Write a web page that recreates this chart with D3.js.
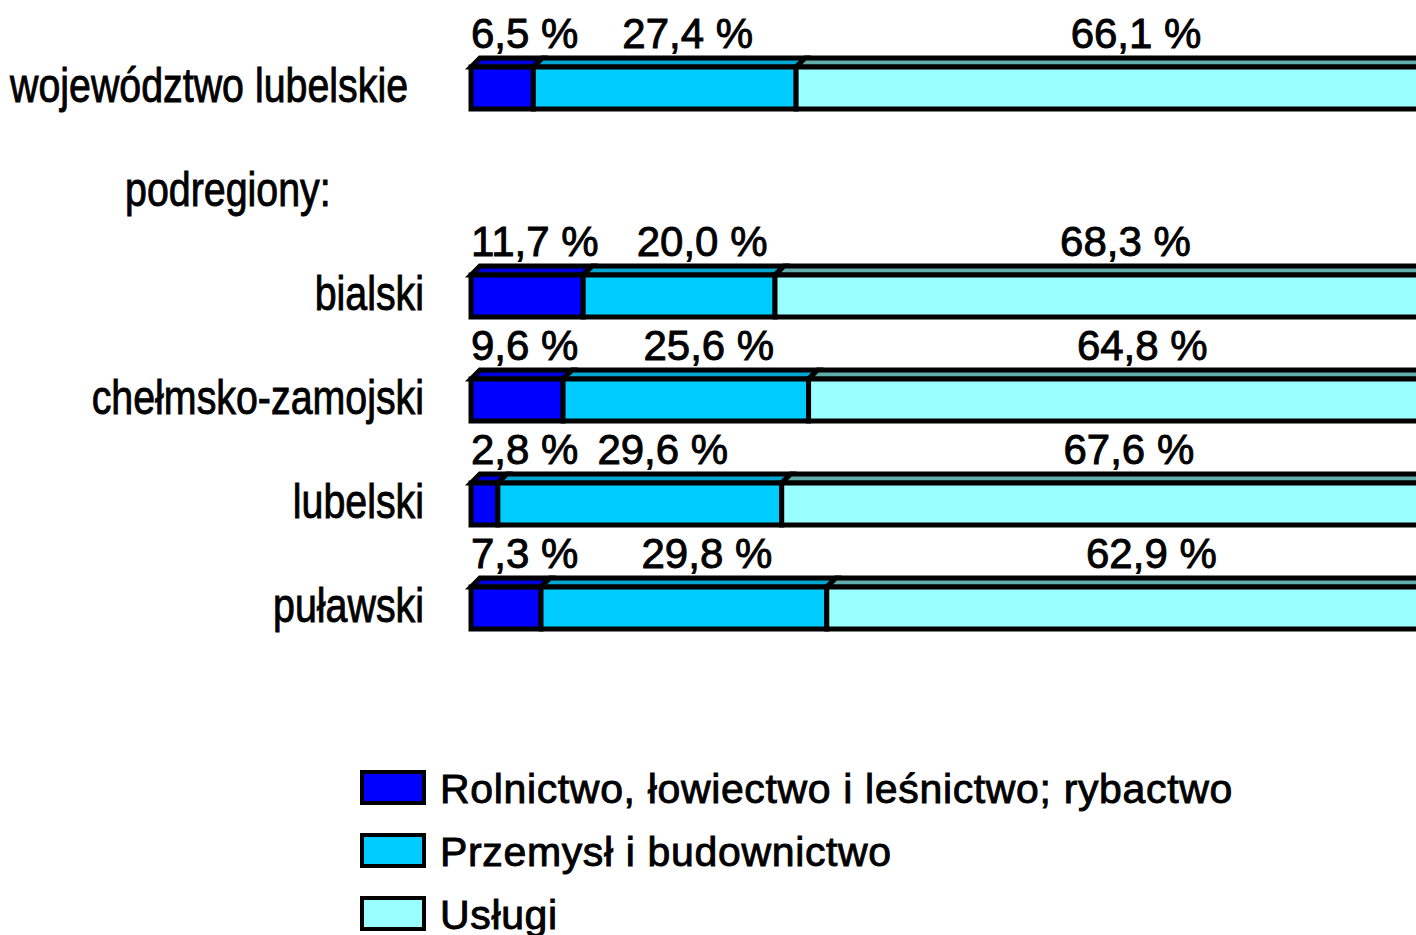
<!DOCTYPE html>
<html>
<head>
<meta charset="utf-8">
<script src="https://cdn.jsdelivr.net/npm/d3@7"></script>
<style>
  html, body { margin: 0; padding: 0; background: #ffffff; overflow: hidden; }
  svg { display: block; font-family: "Liberation Sans", Arial, sans-serif; }
  .txt { fill: #000; stroke: #000; stroke-width: 0.9px; }
</style>
</head>
<body>
<svg id="chart" width="1416" height="935"></svg>
<script>
// Struktura pracujących według sektorów ekonomicznych (%)
const categories = ["województwo lubelskie", "podregiony:", "bialski", "chełmsko-zamojski", "lubelski", "puławski"];
const seriesNames = ["Rolnictwo, łowiectwo i leśnictwo; rybactwo", "Przemysł i budownictwo", "Usługi"];
const agriculture = [6.5, null, 11.7, 9.6, 2.8, 7.3];
const industry    = [27.4, null, 20.0, 25.6, 29.6, 29.8];
const services    = [66.1, null, 68.3, 64.8, 67.6, 62.9];
const frontColors = ["#0000ff", "#00ccff", "#99ffff"];
const topColors   = ["#0000d8", "#00a6d0", "#62acac"];

const svg = d3.select("#chart");

const x = d3.scaleLinear().domain([0, 100]).range([471, 1430]);
const y = d3.scaleBand().domain(categories).range([70, 70 + 104 * categories.length]);

const rows = categories.map((c, i) => ({
  cat: c,
  values: [agriculture[i], industry[i], services[i]]
}));

const fmt = v => d3.format(".1f")(v).replace(".", ",") + " %";
const depth = 9;
const frontH = 42;

// category labels (horizontally condensed)
const labels = svg.append("g");
rows.forEach((r, i) => {
  let lx, anchor;
  if (i === 0) { lx = 10; anchor = "start"; }
  else if (r.values[0] === null) { lx = 125; anchor = "start"; }
  else { lx = 424; anchor = "end"; }
  labels.append("text")
    .attr("class", "txt")
    .attr("transform", `translate(${lx},${y(r.cat) + 32}) scale(0.82,1)`)
    .attr("text-anchor", anchor)
    .attr("font-size", 48)
    .text(r.cat);
});

// stacked 3D bars
const bars = svg.append("g");
rows.filter(r => r.values[0] !== null).forEach(r => {
  const Y = y(r.cat) - 3;
  const stack = [];
  let acc = 0;
  r.values.forEach((v, k) => { stack.push({ k, v, x0: acc, x1: acc + v }); acc += v; });
  const g = bars.append("g");
  stack.forEach(s => {
    const xa = x(s.x0), xb = x(s.x1);
    g.append("polygon")
      .attr("points", [[xa, Y], [xa + depth, Y - depth], [xb + depth, Y - depth], [xb, Y]].map(p => p.join(",")).join(" "))
      .attr("fill", topColors[s.k])
      .attr("stroke", "#000")
      .attr("stroke-width", 5)
      .attr("stroke-linejoin", "miter");
  });
  stack.forEach(s => {
    g.append("rect")
      .attr("x", x(s.x0))
      .attr("y", Y)
      .attr("width", x(s.x1) - x(s.x0))
      .attr("height", frontH)
      .attr("fill", frontColors[s.k])
      .attr("stroke", "#000")
      .attr("stroke-width", 5);
  });
  // value labels above the bar
  stack.forEach(s => {
    const t = g.append("text")
      .attr("class", "txt")
      .attr("y", y(r.cat) - 22)
      .attr("font-size", 42)
      .text(fmt(s.v));
    if (s.k === 0) {
      t.attr("x", x(0)).attr("text-anchor", "start");
    } else {
      t.attr("x", (x(s.x0) + x(s.x1)) / 2 + 23).attr("text-anchor", "middle");
    }
  });
});

// legend
const legend = svg.append("g").attr("transform", "translate(362,772)");
seriesNames.forEach((name, k) => {
  const lg = legend.append("g").attr("transform", `translate(0,${k * 63})`);
  lg.append("rect")
    .attr("width", 62).attr("height", 31)
    .attr("fill", frontColors[k])
    .attr("stroke", "#000").attr("stroke-width", 4);
  lg.append("text")
    .attr("class", "txt")
    .attr("x", 78).attr("y", 31)
    .attr("font-size", 41)
    .attr("letter-spacing", 0.65)
    .text(name);
});
</script>
</body>
</html>
